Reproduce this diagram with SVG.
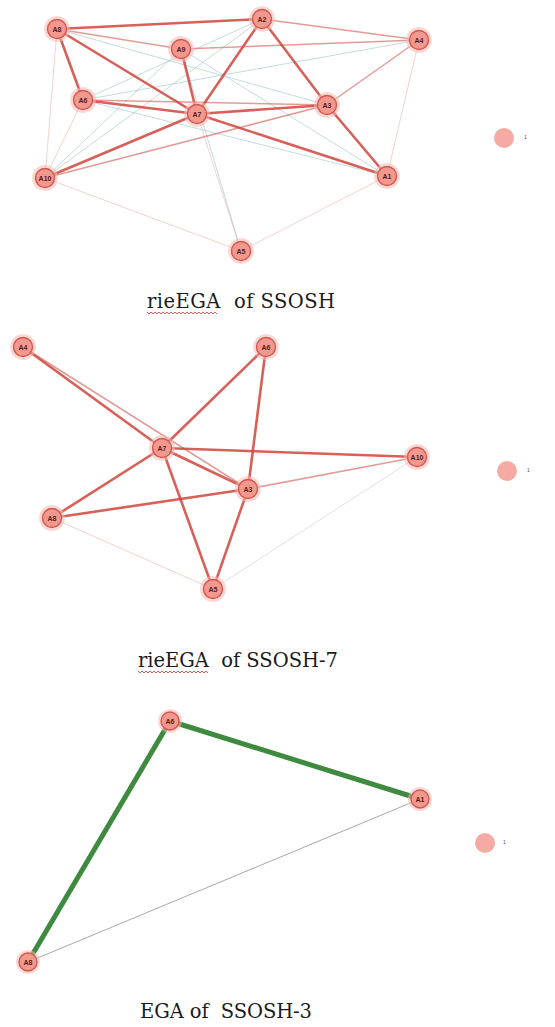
<svg xmlns="http://www.w3.org/2000/svg" width="555" height="1027" viewBox="0 0 555 1027">
<style>
.bg{fill:#ffffff}
.s{stroke:#d0443c;stroke-opacity:.85;stroke-width:2.6;fill:none;stroke-linecap:round}
.m{stroke:#cf5a52;stroke-opacity:.6;stroke-width:1.5;fill:none}
.w{stroke:#e07a72;stroke-opacity:.35;stroke-width:1;fill:none}
.t{stroke:#9cc4c4;stroke-opacity:.6;stroke-width:1;fill:none}
.g{stroke:#3e8a3e;stroke-width:5;fill:none;stroke-linecap:round}
.gt{stroke:#a4aaa4;stroke-width:1;fill:none}
.halo{fill:#f6b9b2;fill-opacity:.55}
.nd{fill:#f2998f;stroke:#d4564e;stroke-width:1.4}
.lb{font-family:"Liberation Sans",Arial,sans-serif;font-size:7px;font-weight:bold;fill:#5a1a16;text-anchor:middle;dominant-baseline:central}
.iso{fill:#f39c94;fill-opacity:.85}
.tiny{font-family:"Liberation Sans",Arial,sans-serif;font-size:5px;fill:#555}
.cap{font-family:"DejaVu Serif","Liberation Serif",serif;font-size:19.5px;fill:#1a1a1a}
.sq{stroke:#d03030;stroke-width:1;fill:none;stroke-opacity:.8}
</style>
<rect class="bg" x="0" y="0" width="555" height="1027"/>

<g id="connectors">
  <!-- top graph -->
  <line class="t" x1="83" y1="100" x2="262" y2="19"/>
  <line class="t" x1="45" y1="178" x2="181" y2="49"/>
  <line class="t" x1="83" y1="100" x2="419" y2="40"/>
  <line class="t" x1="57" y1="29" x2="327" y2="105"/>
  <line class="t" x1="45" y1="178" x2="262" y2="19"/>
  <line class="t" x1="241" y1="251" x2="181" y2="49"/>
  <line class="t" x1="181" y1="49" x2="387" y2="176"/>
  <line class="t" x1="83" y1="100" x2="387" y2="176"/>
  <line class="w" x1="57" y1="29" x2="45" y2="178"/>
  <line class="w" x1="45" y1="178" x2="241" y2="251"/>
  <line class="w" x1="241" y1="251" x2="387" y2="176"/>
  <line class="w" x1="197" y1="114" x2="241" y2="251"/>
  <line class="w" x1="419" y1="40" x2="387" y2="176"/>
  <line class="w" x1="45" y1="178" x2="83" y2="100"/>
  <line class="m" x1="181" y1="49" x2="419" y2="40"/>
  <line class="m" x1="262" y1="19" x2="419" y2="40"/>
  <line class="m" x1="419" y1="40" x2="327" y2="105"/>
  <line class="m" x1="45" y1="178" x2="327" y2="105"/>
  <line class="m" x1="83" y1="100" x2="327" y2="105"/>
  <line class="m" x1="57" y1="29" x2="181" y2="49"/>
  <line class="s" x1="57" y1="29" x2="262" y2="19"/>
  <line class="s" x1="57" y1="29" x2="83" y2="100"/>
  <line class="s" x1="57" y1="29" x2="197" y2="114"/>
  <line class="s" x1="83" y1="100" x2="197" y2="114"/>
  <line class="s" x1="181" y1="49" x2="197" y2="114"/>
  <line class="s" x1="262" y1="19" x2="197" y2="114"/>
  <line class="s" x1="197" y1="114" x2="327" y2="105"/>
  <line class="s" x1="197" y1="114" x2="387" y2="176"/>
  <line class="s" x1="197" y1="114" x2="45" y2="178"/>
  <line class="s" x1="327" y1="105" x2="387" y2="176"/>
  <line class="s" x1="262" y1="19" x2="327" y2="105"/>

  <!-- middle graph -->
  <line class="gt" x1="213" y1="589" x2="417" y2="457" stroke-opacity=".35"/>
  <line class="w" x1="52" y1="518" x2="213" y2="589" stroke-opacity=".2"/>
  <line class="m" x1="23" y1="347" x2="248" y2="489"/>
  <line class="m" x1="248" y1="489" x2="417" y2="457"/>
  <line class="s" x1="23" y1="347" x2="162" y2="448"/>
  <line class="s" x1="266" y1="347" x2="162" y2="448"/>
  <line class="s" x1="266" y1="347" x2="248" y2="489"/>
  <line class="s" x1="162" y1="448" x2="417" y2="457"/>
  <line class="s" x1="162" y1="448" x2="248" y2="489"/>
  <line class="s" x1="162" y1="448" x2="52" y2="518"/>
  <line class="s" x1="162" y1="448" x2="213" y2="589"/>
  <line class="s" x1="52" y1="518" x2="248" y2="489"/>
  <line class="s" x1="248" y1="489" x2="213" y2="589"/>

  <!-- bottom graph -->
  <line class="gt" x1="420" y1="799" x2="28" y2="962"/>
  <line class="g" x1="170" y1="721" x2="420" y2="799"/>
  <line class="g" x1="170" y1="721" x2="28" y2="962"/>
</g>

<!-- top graph nodes -->
<g id="t-A8"><circle class="halo" cx="57" cy="29" r="13"/><circle class="nd" cx="57" cy="29" r="9.5"/><text class="lb" x="57" y="29">A8</text></g>
<g id="t-A9"><circle class="halo" cx="181" cy="49" r="13"/><circle class="nd" cx="181" cy="49" r="9.5"/><text class="lb" x="181" y="49">A9</text></g>
<g id="t-A2"><circle class="halo" cx="262" cy="19" r="13"/><circle class="nd" cx="262" cy="19" r="9.5"/><text class="lb" x="262" y="19">A2</text></g>
<g id="t-A4"><circle class="halo" cx="419" cy="40" r="13"/><circle class="nd" cx="419" cy="40" r="9.5"/><text class="lb" x="419" y="40">A4</text></g>
<g id="t-A6"><circle class="halo" cx="83" cy="100" r="13"/><circle class="nd" cx="83" cy="100" r="9.5"/><text class="lb" x="83" y="100">A6</text></g>
<g id="t-A7"><circle class="halo" cx="197" cy="114" r="13"/><circle class="nd" cx="197" cy="114" r="9.5"/><text class="lb" x="197" y="114">A7</text></g>
<g id="t-A3"><circle class="halo" cx="327" cy="105" r="13"/><circle class="nd" cx="327" cy="105" r="9.5"/><text class="lb" x="327" y="105">A3</text></g>
<g id="t-A10"><circle class="halo" cx="45" cy="178" r="13"/><circle class="nd" cx="45" cy="178" r="9.5"/><text class="lb" x="45" y="178">A10</text></g>
<g id="t-A1"><circle class="halo" cx="387" cy="176" r="13"/><circle class="nd" cx="387" cy="176" r="9.5"/><text class="lb" x="387" y="176">A1</text></g>
<g id="t-A5"><circle class="halo" cx="241" cy="251" r="13"/><circle class="nd" cx="241" cy="251" r="9.5"/><text class="lb" x="241" y="251">A5</text></g>
<g id="t-legend"><circle class="iso" cx="504" cy="138" r="10"/><text class="tiny" x="524" y="139">1</text></g>

<!-- middle graph nodes -->
<g id="m-A4"><circle class="halo" cx="23" cy="347" r="13"/><circle class="nd" cx="23" cy="347" r="9.5"/><text class="lb" x="23" y="347">A4</text></g>
<g id="m-A6"><circle class="halo" cx="266" cy="347" r="13"/><circle class="nd" cx="266" cy="347" r="9.5"/><text class="lb" x="266" y="347">A6</text></g>
<g id="m-A7"><circle class="halo" cx="162" cy="448" r="13"/><circle class="nd" cx="162" cy="448" r="9.5"/><text class="lb" x="162" y="448">A7</text></g>
<g id="m-A3"><circle class="halo" cx="248" cy="489" r="13"/><circle class="nd" cx="248" cy="489" r="9.5"/><text class="lb" x="248" y="489">A3</text></g>
<g id="m-A8"><circle class="halo" cx="52" cy="518" r="13"/><circle class="nd" cx="52" cy="518" r="9.5"/><text class="lb" x="52" y="518">A8</text></g>
<g id="m-A10"><circle class="halo" cx="417" cy="457" r="13"/><circle class="nd" cx="417" cy="457" r="9.5"/><text class="lb" x="417" y="457">A10</text></g>
<g id="m-A5"><circle class="halo" cx="213" cy="589" r="13"/><circle class="nd" cx="213" cy="589" r="9.5"/><text class="lb" x="213" y="589">A5</text></g>
<g id="m-legend"><circle class="iso" cx="507" cy="471" r="10"/><text class="tiny" x="527" y="472">1</text></g>

<!-- bottom graph nodes -->
<g id="b-A6"><circle class="halo" cx="170" cy="721" r="12"/><circle class="nd" cx="170" cy="721" r="9"/><text class="lb" x="170" y="721">A6</text></g>
<g id="b-A1"><circle class="halo" cx="420" cy="799" r="12"/><circle class="nd" cx="420" cy="799" r="9"/><text class="lb" x="420" y="799">A1</text></g>
<g id="b-A8"><circle class="halo" cx="28" cy="962" r="12"/><circle class="nd" cx="28" cy="962" r="9"/><text class="lb" x="28" y="962">A8</text></g>
<g id="b-legend"><circle class="iso" cx="485" cy="843" r="10"/><text class="tiny" x="503" y="844">1</text></g>

<!-- captions -->
<g id="captions">
  <text class="cap" x="147" y="308" xml:space="preserve" textLength="188" lengthAdjust="spacing">rieEGA  of SSOSH</text>
  <path class="sq" d="M147 312 l2 2 l2 -2 l2 2 l2 -2 l2 2 l2 -2 l2 2 l2 -2 l2 2 l2 -2 l2 2 l2 -2 l2 2 l2 -2 l2 2 l2 -2 l2 2 l2 -2 l2 2 l2 -2 l2 2 l2 -2 l2 2 l2 -2 l2 2 l2 -2 l2 2 l2 -2 l2 2 l2 -2 l2 2 l2 -2 l2 2 l2 -2 l2 2"/>
  <text class="cap" x="138" y="667" xml:space="preserve" textLength="200" lengthAdjust="spacing">rieEGA  of SSOSH-7</text>
  <path class="sq" d="M138 671 l2 2 l2 -2 l2 2 l2 -2 l2 2 l2 -2 l2 2 l2 -2 l2 2 l2 -2 l2 2 l2 -2 l2 2 l2 -2 l2 2 l2 -2 l2 2 l2 -2 l2 2 l2 -2 l2 2 l2 -2 l2 2 l2 -2 l2 2 l2 -2 l2 2 l2 -2 l2 2 l2 -2 l2 2 l2 -2 l2 2 l2 -2 l2 2"/>
  <text class="cap" x="140" y="1018" xml:space="preserve" textLength="172" lengthAdjust="spacing">EGA of  SSOSH-3</text>
</g>
</svg>
